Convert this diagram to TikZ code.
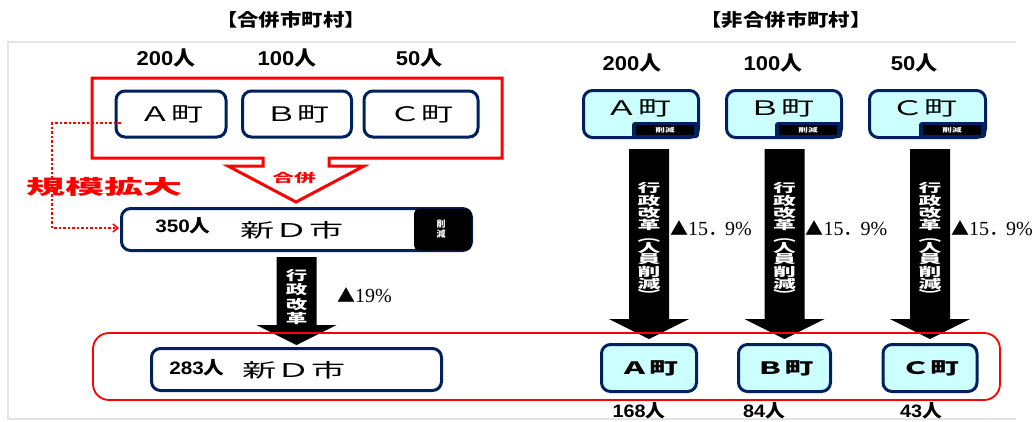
\documentclass[tikz,border=0pt]{standalone}
\usepackage{fontspec}
\usepackage{graphicx}
\setmainfont{Liberation Sans}
\newfontfamily\cjk{Noto Sans CJK JP}
\newfontfamily\ser{Liberation Serif}
\usetikzlibrary{calc,arrows.meta}
\definecolor{navy}{RGB}{0,32,96}
\definecolor{lcyan}{RGB}{204,255,255}
\definecolor{framegray}{RGB}{228,228,228}
\newcommand\hs[2]{\scalebox{#1}[1]{#2}}
\newcommand\fs[1]{\fontsize{#1}{#1}\selectfont}
\newcommand\pop[1]{\hs{1.1}{\bfseries\fs{20}#1{\cjk 人}}}
\newcommand\popc[1]{\hs{1.1}{\bfseries\fs{18}#1{\cjk 人}}}
\newcommand\popb[1]{\hs{1.15}{\bfseries\fs{18}#1{\cjk 人}}}
\newcommand\blockarr[5]{\fill[black] let \p1=(#1), \p2=(#2) in
  (\x2-#3,\y1) -- (\x2+#3,\y1) -- (\x2+#3,\y2+#5) -- (\x2+#4,\y2+#5) -- (\x2,\y2)
  -- (\x2-#4,\y2+#5) -- (\x2-#3,\y2+#5) -- cycle;}
\newcommand\longv{\scalebox{1.9}[1]{\parbox{14pt}{\centering\cjk\bfseries\fontsize{12}{11.2}\selectfont 行\\政\\改\\革\\︵\\人\\員\\削\\減\\︶}}}
\newcommand\shortv{\scalebox{1.65}[1]{\parbox{14pt}{\centering\cjk\bfseries\fontsize{13}{14.5}\selectfont 行\\政\\改\\革}}}
\newcommand\pct{{\cjk\fs{18}▲}{\ser\fs{20}15}{\cjk\fs{20}．}\hspace{-3pt}{\ser\fs{20}9\%}}
\begin{document}
\begin{tikzpicture}[x=1pt,y=-1pt,
  lbox/.style={draw=navy, line width=3pt, rounded corners=9pt, fill=white, inner sep=0pt},
  cbox/.style={lbox, fill=lcyan},
  txt/.style={inner sep=0pt, outer sep=0pt},
  redline/.style={draw=red, line width=3pt},
  reddot/.style={draw=red, line width=1.8pt, dash pattern=on 2.5pt off 2pt},
  tabtxt/.style={txt, text=white, font={\cjk\bfseries\fontsize{6}{6}\selectfont}},
]
\useasboundingbox (0,0) rectangle (1036,421);
% frame
\draw[framegray, line width=1.5pt] (1016,42) -- (8,42) -- (8,419) -- (1016,419);

% titles
\node[txt] (t1) at (291,20) {\hs{1.22}{\cjk\bfseries\fs{17.5}【合併市町村】}};
\node[txt] (t2) at (786,20) {\hs{1.22}{\cjk\bfseries\fs{17.5}【非合併市町村】}};

% populations
\node[txt] (pl1) at (166,58) {\pop{200}};
\node[txt] (pl2) at (287,58) {\pop{100}};
\node[txt] (pl3) at (419,58) {\pop{50}};
\node[txt] (pr1) at (632,63) {\pop{200}};
\node[txt] (pr2) at (773,63) {\pop{100}};
\node[txt] (pr3) at (914,63) {\pop{50}};

% merger bracket
\draw[redline] (92,78) -- (502,78) -- (502,158) -- (329,158) -- (329,166) -- (364,166)
  -- (296,202) -- (228,166) -- (263,166) -- (263,158) -- (92,158) -- cycle;
\node[txt, text=red] (mg) at (294,178) {\hs{1.8}{\cjk\bfseries\fs{12}合併}};

% left towns
\node[lbox, minimum width=110pt, minimum height=46pt] (lA) at (171,114) {\hs{1.6}{\cjk\fs{20}Ａ町}};
\node[lbox, minimum width=109pt, minimum height=46pt] (lB) at (297,114) {\hs{1.6}{\cjk\fs{20}Ｂ町}};
\node[lbox, minimum width=114pt, minimum height=46pt] (lC) at (421,114) {\hs{1.6}{\cjk\fs{20}Ｃ町}};

% new D city
\node[lbox, minimum width=350pt, minimum height=42pt] (D) at (296.5,229.5) {};
\fill[black, rounded corners=5pt] ($(D.north east)+(-59,1.5)$) rectangle ($(D.south east)+(-1.5,-1.5)$);
\node[txt, text=white, align=center, font={\cjk\bfseries\fontsize{9}{10}\selectfont}] (Dcut) at (441,229.5) {削\\減};
\node[txt] (Dp) at (183,226) {\popb{350}};
\node[txt] (Dt) at (292,230) {\hs{1.8}{\cjk\fs{19}新Ｄ市}};

% dotted scale-up line
\coordinate (dc1) at (52,123);
\coordinate (dc2) at (52,228);
\draw[reddot, -{Straight Barb[length=5pt,width=8pt,line width=1.5pt]}, shorten >=1pt]
  ($(lA.west)+(6,9)$) -- (dc1) -- (dc2) -- (dc2 -| D.west);
\node[txt, text=red] (kb) at (104,187) {\hs{1.95}{\cjk\bfseries\fs{20}規模拡大}};

% right towns (top)
\node[cbox, minimum width=115pt, minimum height=47pt] (rA) at (641,114) {};
\node[cbox, minimum width=115pt, minimum height=47pt] (rB) at (784,114) {};
\node[cbox, minimum width=116pt, minimum height=47pt] (rC) at (927.5,114) {};
\foreach \bx/\lt in {rA/Ａ, rB/Ｂ, rC/Ｃ}{
  \node[txt] (\bx t) at ($(\bx.center)+(-3,-6)$) {\hs{1.65}{\cjk\fs{20}\lt 町}};
  \fill[navy, rounded corners=3pt] ($(\bx.south east)+(-68,-17)$) rectangle ($(\bx.south east)+(-1,-1)$);
  \fill[black] ($(\bx.south east)+(-64,-14)$) rectangle ($(\bx.south east)+(-6,-4)$);
  \node[tabtxt] (\bx cut) at ($(\bx.south east)+(-35,-9)$) {\hs{1.6}{削減}};
}

% bottom boxes
\node[lbox, minimum width=290pt, minimum height=42pt] (E) at (296.5,369.5) {};
\node[txt] (Ep) at (197,368) {\popb{283}};
\node[txt] (Et) at (294,370) {\hs{1.8}{\cjk\fs{19}新Ｄ市}};
\node[cbox, minimum width=95pt, minimum height=47pt] (bA) at (649,368) {\hs{1.7}{\cjk\bfseries\fs{17}Ａ町}};
\node[cbox, minimum width=92pt, minimum height=47pt] (bB) at (784.5,368) {\hs{1.7}{\cjk\bfseries\fs{17}Ｂ町}};
\node[cbox, minimum width=94pt, minimum height=47pt] (bC) at (930,368) {\hs{1.7}{\cjk\bfseries\fs{17}Ｃ町}};

% administrative reform arrows
\blockarr{$(E.north |- D.south)+(0,5)$}{$(E.north)+(0,-2)$}{20pt}{40pt}{20pt}
\node[txt, text=white] (Es) at ($(E.north |- D.south)+(0,45)$) {\shortv};
\node[txt, anchor=west] (Epct) at (337,295) {{\cjk\fs{18}▲}{\ser\fs{20}19\%}};

\coordinate (ly) at (0,228);
\foreach \bx/\tx in {bA/rA, bB/rB, bC/rC}{
  \blockarr{$(\bx.north |- \tx.south)+(0,10)$}{$(\bx.north)+(0,-4)$}{20pt}{40pt}{20pt}
  \node[txt, text=white] (\bx s) at ($(\bx.north |- \tx.south)+(0,102)$) {\longv};
  \node[txt, anchor=west] (\bx pct) at ($(\bx.north |- ly)+(21,0)$) {\pct};
}

% reduced-staff frame
\draw[red, line width=1.8pt, rounded corners=16pt] (93,333) rectangle (1000,400);

% bottom populations
\node[txt] (q1) at (639,410.5) {\popc{168}};
\node[txt] (q2) at (764,410.5) {\popc{84}};
\node[txt] (q3) at (921,410.5) {\popc{43}};
\end{tikzpicture}
\end{document}
